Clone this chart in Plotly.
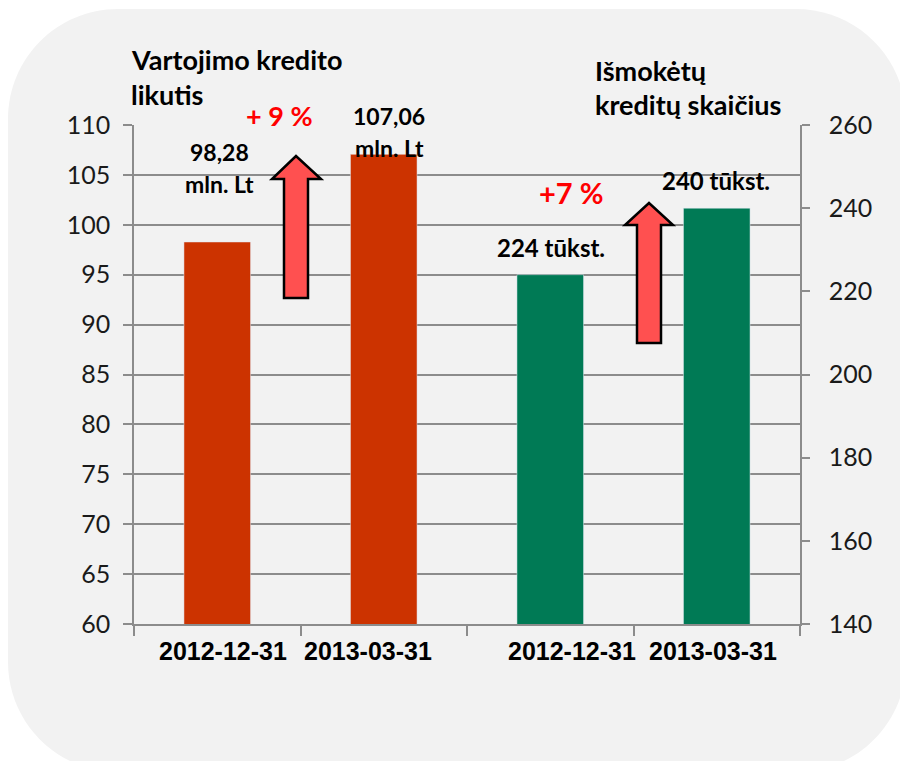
import plotly.graph_objects as go

# ---- data ----
dates = ["2012-12-31", "2013-03-31"]
credit_balance = [98.28, 107.06]        # mln. Lt (left axis)
loans_issued = [224, 240]               # tūkst. (right axis)
left_title = ["Vartojimo kredito", "likutis"]
right_title = ["Išmokėtų", "kreditų skaičius"]
left_ticks = [60, 65, 70, 75, 80, 85, 90, 95, 100, 105, 110]
right_ticks = [140, 160, 180, 200, 220, 240, 260]

RED = "#CC3300"
GREEN = "#007A55"
GREY_BG = "#F2F2F2"
GRID = "#8C8C8C"
ARROW = "#FF5050"

# page body has an 8px margin; figure coordinates are screen - 8
OFF = 8
W, H = 900, 753
L, R, T, B = 126, 108, 117, 137
PW, PH = W - L - R, H - T - B


def px(x):  # screen x -> paper
    return (x - OFF - L) / PW


def py(y):  # screen y -> paper
    return (OFF + T + PH - y) / PH


fig = go.Figure()
fig.add_trace(go.Bar(x=[0, 1], y=credit_balance, marker_color=RED, width=0.4,
                     showlegend=False, hoverinfo="skip"))
fig.add_trace(go.Bar(x=[2, 3], y=loans_issued, marker_color=GREEN, width=0.4,
                     yaxis="y2", showlegend=False, hoverinfo="skip"))

shapes = []
# rounded grey background
x0, x1, y0, y1, r = 8, 906, 9, 772, 110
k = 0.5523 * r
pts = [
    f"M {px(x0 + r)} {py(y0)}",
    f"L {px(x1 - r)} {py(y0)}",
    f"C {px(x1 - r + k)} {py(y0)} {px(x1)} {py(y0 + r - k)} {px(x1)} {py(y0 + r)}",
    f"L {px(x1)} {py(y1 - r)}",
    f"C {px(x1)} {py(y1 - r + k)} {px(x1 - r + k)} {py(y1)} {px(x1 - r)} {py(y1)}",
    f"L {px(x0 + r)} {py(y1)}",
    f"C {px(x0 + r - k)} {py(y1)} {px(x0)} {py(y1 - r + k)} {px(x0)} {py(y1 - r)}",
    f"L {px(x0)} {py(y0 + r)}",
    f"C {px(x0)} {py(y0 + r - k)} {px(x0 + r - k)} {py(y0)} {px(x0 + r)} {py(y0)}",
    "Z",
]
shapes.append(dict(type="path", xref="paper", yref="paper", path=" ".join(pts),
                   fillcolor=GREY_BG, line=dict(width=0), layer="below"))


def block_arrow(sl, sr, bottom, hl, hr, hy, tx, ty):
    p = [(sl, bottom), (sl, hy), (hl, hy), (tx, ty), (hr, hy), (sr, hy), (sr, bottom)]
    d = "M " + " L ".join(f"{px(a)} {py(b)}" for a, b in p) + " Z"
    return dict(type="path", xref="paper", yref="paper", path=d,
                fillcolor=ARROW, line=dict(color="black", width=2.5), layer="above")


shapes.append(block_arrow(284, 308, 298, 272, 321, 179, 296, 156))
shapes.append(block_arrow(637, 661, 343, 625, 673, 225, 649, 203))

ann = []


def text(t, x, baseline, size, color="black", anchor="center", bold=True, family="Lato"):
    ann.append(dict(text=f"<b>{t}</b>" if bold else t, xref="paper", yref="paper",
                    x=px(x), y=py(baseline - 0.33 * size), xanchor=anchor, yanchor="middle",
                    showarrow=False, font=dict(family=family, size=size, color=color)))


def fmt(v):
    return f"{v:.2f}".replace(".", ",")


text(left_title[0], 129, 68, 27, anchor="left")
text(left_title[1], 129, 103, 27, anchor="left")
text(right_title[0], 593, 79, 27, anchor="left")
text(right_title[1], 593, 113, 27, anchor="left")

text(fmt(credit_balance[0]), 219, 160, 23)
text("mln. Lt", 219, 192, 23)
text(fmt(credit_balance[1]), 389, 124, 23)
text("mln. Lt", 389, 156, 23)
text(f"{loans_issued[0]} tūkst.", 551, 255, 24)
text(f"{loans_issued[1]} tūkst.", 716, 188, 24)

pct1 = round((credit_balance[1] / credit_balance[0] - 1) * 100)
pct2 = round((loans_issued[1] / loans_issued[0] - 1) * 100)
text(f"+ {pct1} %", 279, 124, 27, color="#FF0000")
text(f"+{pct2} %", 571, 202, 29, color="#FF0000")

# category labels (placed as in the reference, slightly off-centre)
for lab, xc in zip(dates * 2, [223, 368, 572, 713]):
    text(lab, xc, 659, 25, family="Liberation Sans")

fig.update_layout(
    width=W, height=H, autosize=False,
    margin=dict(l=L, r=R, t=T, b=B, pad=0),
    paper_bgcolor="white", plot_bgcolor="rgba(0,0,0,0)",
    shapes=shapes, annotations=ann,
    xaxis=dict(range=[-0.5, 3.5], tickmode="array", tickvals=[0, 1, 2, 3],
               ticktext=["", "", "", ""], ticks="",
               showline=True, linecolor=GRID, linewidth=1.5, showgrid=False, zeroline=False,
               minor=dict(tickmode="array", tickvals=[-0.5, 0.5, 1.5, 2.5, 3.5],
                          ticks="outside", ticklen=10, tickcolor=GRID, tickwidth=1.5, showgrid=False)),
    yaxis=dict(range=[60, 110], tickmode="array", tickvals=left_ticks,
               ticks="outside", ticklen=9, tickcolor=GRID, tickwidth=1.5,
               showline=True, linecolor=GRID, linewidth=1.5, ticklabelstandoff=8,
               showgrid=True, gridcolor=GRID, gridwidth=1.5, zeroline=False,
               tickfont=dict(family="Lato", size=25, color="#1a1a1a")),
    yaxis2=dict(range=[140, 260], tickmode="array", tickvals=right_ticks,
                overlaying="y", side="right",
                ticks="outside", ticklen=8, tickcolor=GRID, tickwidth=1.5,
                showline=True, linecolor=GRID, linewidth=1.5, ticklabelstandoff=14,
                showgrid=False, zeroline=False,
                tickfont=dict(family="Lato", size=25, color="#1a1a1a")),
)

fig.write_html("out.html")
